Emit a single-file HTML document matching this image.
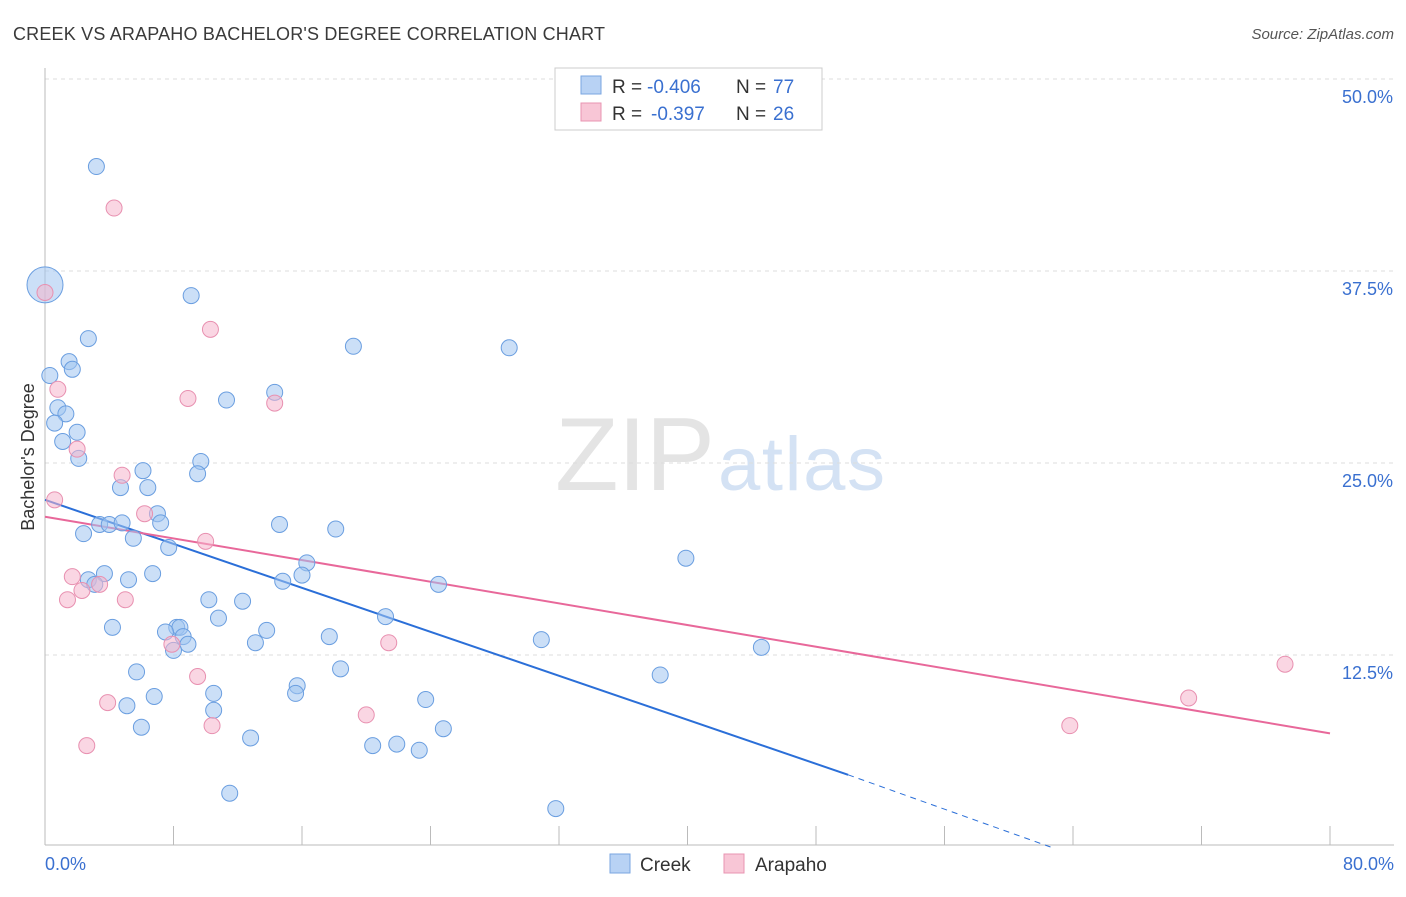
<!DOCTYPE html>
<html><head><meta charset="utf-8"><style>
body{margin:0;background:#fff;font-family:"Liberation Sans",sans-serif;}
svg text{font-family:"Liberation Sans",sans-serif;}
</style></head><body>
<svg id="chart" width="1406" height="892" xmlns="http://www.w3.org/2000/svg">
<text x="13" y="40" font-size="18" fill="#3a3a3a" textLength="592">CREEK VS ARAPAHO BACHELOR'S DEGREE CORRELATION CHART</text>
<text x="1394" y="39" font-size="15" fill="#555" text-anchor="end" font-style="italic">Source: ZipAtlas.com</text>
<text x="555" y="490" font-size="104" fill="#e4e4e4" font-family="Liberation Serif" textLength="160">ZIP</text>
<text x="718" y="490" font-size="76" fill="#d4e2f4" textLength="167">atlas</text>
<text transform="translate(34,457) rotate(-90)" font-size="18" fill="#333" text-anchor="middle">Bachelor's Degree</text>
<g id="grid"></g><g id="axes"></g><g id="trends"></g><g id="points"></g>
<g>
<rect x="555" y="68" width="267" height="62" fill="#fff" stroke="#ccc"/>
<rect x="581" y="76" width="20" height="18" fill="#b8d2f4" stroke="#7aa6e0"/>
<rect x="581" y="103" width="20" height="18" fill="#f8c6d6" stroke="#e894b2"/>
<text font-size="19" fill="#333"><tspan x="612" y="93">R =</tspan><tspan x="647" y="93" fill="#3a70d0">-0.406</tspan><tspan x="736" y="93">N =</tspan><tspan x="773" y="93" fill="#3a70d0">77</tspan></text>
<text font-size="19" fill="#333"><tspan x="612" y="120">R =</tspan><tspan x="651" y="120" fill="#3a70d0">-0.397</tspan><tspan x="736" y="120">N =</tspan><tspan x="773" y="120" fill="#3a70d0">26</tspan></text>
</g>
<g>
<rect x="610" y="854" width="20" height="19" fill="#b8d2f4" stroke="#7aa6e0"/>
<text x="640" y="871" font-size="19" fill="#333">Creek</text>
<rect x="724" y="854" width="20" height="19" fill="#f8c6d6" stroke="#e894b2"/>
<text x="755" y="871" font-size="19" fill="#333">Arapaho</text>
</g>
</svg>
<script>
const yTicks=[12.5,25,37.5,50];
const yTickLabels=["12.5%","25.0%","37.5%","50.0%"];
const xTickVals=[0,8,16,24,32,40,48,56,64,72,80];
const xEndLabels=["0.0%","80.0%"];
const creekX=[3.2,0,9.1,2.7,19.2,28.9,1.5,1.7,0.3,14.3,11.3,0.8,1.3,0.6,1.1,2.0,2.1,9.7,6.1,9.5,4.7,6.4,7.0,3.4,4.0,4.8,7.2,14.6,18.1,2.4,5.5,7.7,39.9,16.3,6.7,3.7,16.0,2.7,5.2,14.8,24.5,3.1,10.2,12.3,21.2,10.8,4.2,8.2,8.4,7.5,13.8,8.6,17.7,30.9,8.9,13.1,8.0,44.6,5.7,18.4,38.3,15.7,10.5,6.8,15.6,23.7,5.1,10.5,6.0,24.8,12.8,21.9,20.4,23.3,11.5,31.8];
const creekY=[44.3,36.6,35.9,33.1,32.6,32.5,31.6,31.1,30.7,29.6,29.1,28.6,28.2,27.6,26.4,27.0,25.3,25.1,24.5,24.3,23.4,23.4,21.7,21.0,21.0,21.1,21.1,21.0,20.7,20.4,20.1,19.5,18.8,18.5,17.8,17.8,17.7,17.4,17.4,17.3,17.1,17.1,16.1,16.0,15.0,14.9,14.3,14.3,14.3,14.0,14.1,13.7,13.7,13.5,13.2,13.3,12.8,13.0,11.4,11.6,11.2,10.5,10.0,9.8,10.0,9.6,9.2,8.9,7.8,7.7,7.1,6.7,6.6,6.3,3.5,2.5];
const arapahoX=[4.3,0,10.3,0.8,8.9,14.3,2.0,4.8,0.6,6.2,10.0,1.7,2.3,3.4,1.4,5.0,21.4,7.9,9.5,3.9,77.2,71.2,20.0,10.4,2.6,63.8];
const arapahoY=[41.6,36.1,33.7,29.8,29.2,28.9,25.9,24.2,22.6,21.7,19.9,17.6,16.7,17.1,16.1,16.1,13.3,13.2,11.1,9.4,11.9,9.7,8.6,7.9,6.6,7.9];
const creekTrend=[0,22.6,50,4.7,62.6,0];
const arapahoTrend=[0,21.5,80,7.4];
const NS="http://www.w3.org/2000/svg";
const X0=45,X1=1330,YB=847,PXPER=192/12.5;
function xs(v){return X0+(X1-X0)*v/80;}
function ys(v){return YB-v*PXPER;}
function mk(tag,attrs,parent){const e=document.createElementNS(NS,tag);for(const k in attrs)e.setAttribute(k,attrs[k]);document.getElementById(parent).appendChild(e);return e;}
yTicks.forEach((t,i)=>{
 let l=mk('line',{x1:45,x2:1394,y1:ys(t),y2:ys(t),stroke:'#ddd','stroke-dasharray':'4,4'},'grid');
 
 
 let tx=mk('text',{x:1393,y:ys(t)+24,'font-size':18,fill:'#3a70d0','text-anchor':'end'},'axes');
 tx.textContent=yTickLabels[i];
 
 
});
let ax=mk('line',{x1:45,x2:1394,y1:845,y2:845,stroke:'#bbb'},'axes');


let ay=mk('line',{x1:45,x2:45,y1:68,y2:845,stroke:'#bbb'},'axes');


xTickVals.forEach(v=>{
 let t=mk('line',{x1:xs(v),x2:xs(v),y1:826,y2:845,stroke:'#bbb'},'axes');
 
 
});
[[0,'start',45],[80,'end',1394]].forEach((a,i)=>{
 let t=mk('text',{x:a[2],y:870,'font-size':18,fill:'#3a70d0','text-anchor':a[1]},'axes');
 t.textContent=xEndLabels[i];
 
 
});
let bt=mk('line',{x1:xs(creekTrend[0]),y1:ys(creekTrend[1]),x2:xs(creekTrend[2]),y2:ys(creekTrend[3]),stroke:'#2b6fd8','stroke-width':2},'trends');


let bd=mk('line',{x1:xs(creekTrend[2]),y1:ys(creekTrend[3]),x2:xs(creekTrend[4]),y2:ys(creekTrend[5]),stroke:'#2b6fd8','stroke-width':1,'stroke-dasharray':'6,5'},'trends');


let pt=mk('line',{x1:xs(arapahoTrend[0]),y1:ys(arapahoTrend[1]),x2:xs(arapahoTrend[2]),y2:ys(arapahoTrend[3]),stroke:'#e8689a','stroke-width':2},'trends');


creekX.forEach((x,i)=>{
 let c=mk('circle',{cx:xs(x),cy:ys(creekY[i]),r:(i===1?18:8),fill:'rgba(160,196,240,0.55)',stroke:'#6a9ee0','stroke-width':1},'points');
 
 
});
arapahoX.forEach((x,i)=>{
 let c=mk('circle',{cx:xs(x),cy:ys(arapahoY[i]),r:8,fill:'rgba(245,180,204,0.55)',stroke:'#e890b0','stroke-width':1},'points');
 
 
});
</script>
</body></html>
